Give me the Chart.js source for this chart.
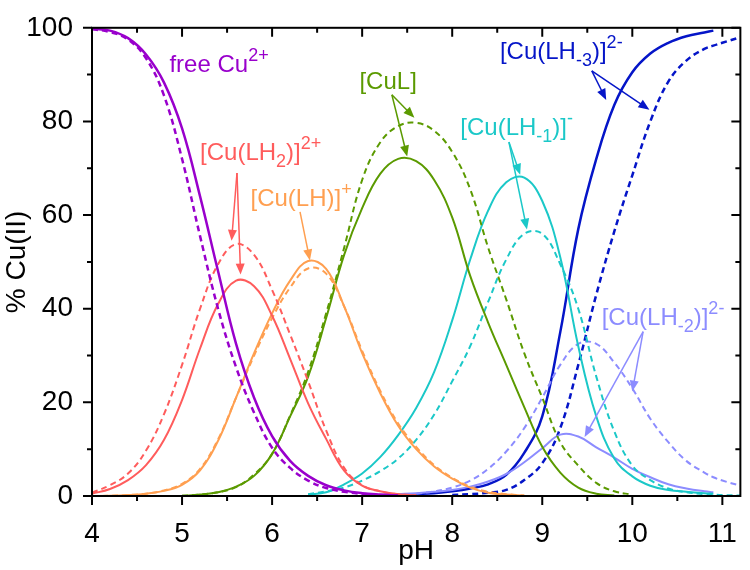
<!DOCTYPE html>
<html>
<head>
<meta charset="utf-8">
<script src="https://cdn.jsdelivr.net/npm/chart.js@4.4.0/dist/chart.umd.min.js"></script>
<style>
  html, body { margin: 0; padding: 0; background: #fff; }
  #wrap { width: 750px; height: 570px; }
</style>
</head>
<body>
<div id="wrap"><canvas id="myChart" width="750" height="570"></canvas></div>
<script>
// pH grid shared by all curves
const pH = [4.0, 4.2, 4.4, 4.6, 4.8, 5.0, 5.2, 5.4, 5.6, 5.8, 6.0, 6.2, 6.4, 6.6, 6.8, 7.0, 7.2, 7.4, 7.6, 7.8,
            8.0, 8.2, 8.4, 8.6, 8.8, 9.0, 9.2, 9.4, 9.6, 9.8, 10.0, 10.2, 10.4, 10.6, 10.8, 10.9, 11.0, 11.2];

const _ = null;

// % Cu(II) for each species, solid and dashed
const freeCuSolid = [99.8, 99.4, 97.8, 94.3, 88.3, 78.5, 64, 48, 32.5, 21, 12.8, 7.5, 4.3, 2.3, 1.2, 0.6, 0.3, 0.1,
                     _, _, _, _, _, _, _, _, _, _, _, _, _, _, _, _, _, _, _, _];
const freeCuDash  = [99.7, 99.1, 97.5, 93.5, 85.5, 72, 55.5, 40, 27.5, 17.8, 10.3, 6, 3.3, 1.7, 0.9, 0.45, 0.2, 0.1,
                     _, _, _, _, _, _, _, _, _, _, _, _, _, _, _, _, _, _, _, _];

const lh2Solid = [0.5, 1.5, 3.4, 6.6, 12, 20.5, 31.5, 41, 46, 44.8, 38.5, 29.3, 19.8, 12.2, 5.4, 2.2, 1.0, 0.4, 0.15,
                  _, _, _, _, _, _, _, _, _, _, _, _, _, _, _, _, _, _, _];
const lh2Dash  = [0.7, 2.3, 4.8, 9.7, 17.5, 28, 40, 49.5, 53.8, 51.5, 44, 34.5, 24.5, 14, 6, 2.3, 1.0, 0.4, 0.15,
                  _, _, _, _, _, _, _, _, _, _, _, _, _, _, _, _, _, _, _];

const lhSolid = [0, 0.05, 0.2, 0.5, 1.1, 2.4, 5.5, 11.8, 21, 30.5, 39, 46, 50.2, 48.5, 40.5, 30.5, 22, 15, 10, 6.3,
                 3.7, 1.8, 0.7, 0.3, 0.1, _, _, _, _, _, _, _, _, _, _, _, _, _];
const lhDash  = [0, 0.05, 0.2, 0.5, 1.2, 2.6, 5.8, 12.1, 21, 30, 38, 44.5, 48.6, 47.5, 40.5, 31, 22.5, 15.5, 10.5, 6.6,
                 3.9, 2.0, 0.9, 0.4, 0.1, _, _, _, _, _, _, _, _, _, _, _, _, _];

const culSolid = [_, _, _, _, _, 0.05, 0.3, 0.8, 2.0, 4.3, 9, 17, 25.5, 38, 51.5, 61.5, 68.8, 72, 71.5, 67.5,
                  59.5, 47, 37, 28, 19, 10.5, 5, 1.8, 0.5, 0.1, _, _, _, _, _, _, _, _];
const culDash  = [_, _, _, _, _, 0.05, 0.3, 0.8, 1.9, 4.6, 9, 17.2, 26.5, 39, 53, 67.5, 75.5, 79, 79.7, 78,
                  73.5, 65.5, 53, 42, 30.5, 21, 11.5, 6.5, 2.8, 1.0, 0.3, _, _, _, _, _, _, _];

const lhm1Solid = [_, _, _, _, _, _, _, _, _, _, _, _, 0.3, 0.8, 2.5, 4.8, 8.3, 13, 18.8, 26.5,
                   37.5, 50.5, 61, 67, 68, 63, 51, 32, 17, 8, 4.2, 2.2, 1.3, 0.9, 0.6, 0.5, _, _];
const lhm1Dash  = [_, _, _, _, _, _, _, _, _, _, _, _, 0.4, 1.0, 1.8, 3.3, 5.3, 8, 12, 17.4,
                   24.5, 32, 41.5, 50.5, 56, 56, 49.5, 40, 25.5, 13.8, 6.5, 3.4, 1.6, 0.8, 0.4, 0.3, 0.2, 0.1];

const lhm2Solid = [_, _, _, _, _, _, _, _, _, _, _, _, _, _, _, 0.1, 0.2, 0.4, 0.6, 0.9,
                   1.3, 2.0, 3.1, 4.7, 7.2, 10.2, 13.1, 12.7, 10.4, 8.2, 5.8, 4, 2.5, 1.6, 1.0, 0.8, _, _];
const lhm2Dash  = [_, _, _, _, _, _, _, _, _, _, _, _, _, _, _, _, _, _, 0.5, 1.0,
                   1.8, 3.3, 5.8, 9.5, 14.5, 21, 28, 32.5, 32.5, 28.5, 23, 16.5, 11.5, 7.5, 5, 4, 3.3, 2.2];

const lhm3Solid = [_, _, _, _, _, _, _, _, _, _, _, _, _, _, _, _, _, 0.2, 0.4, 0.6,
                   1.0, 1.6, 2.5, 4.5, 9.2, 17, 35, 57, 72, 83.5, 90.5, 94.5, 96.8, 98.2, 99, 99.4, _, _];
const lhm3Dash  = [_, _, _, _, _, _, _, _, _, _, _, _, _, _, _, _, _, _, _, _,
                   0.2, 0.4, 0.7, 1.3, 3.4, 7, 14.5, 28, 43, 56.5, 68.5, 80, 88.5, 93, 95.5, 96.2, 96.8, 98];

// axis ticks
const xMajor = [4, 5, 6, 7, 8, 9, 10, 11];
const xMinor = [4.5, 5.5, 6.5, 7.5, 8.5, 9.5, 10.5];
const yMajor = [0, 20, 40, 60, 80, 100];
const yMinor = [10, 30, 50, 70, 90];

const FONT = '"Liberation Sans", Arial, sans-serif';

const colors = {
    purple: '#9900cc',
    red: '#ff5c5c',
    orange: '#ff9f50',
    green: '#5b9a00',
    cyan: '#1bc8c8',
    blue: '#0515c8',
    light: '#8c8cff'
};

function series(vals, color, dashed, width) {
    return {
        data: pH.map((p, i) => ({ x: p, y: vals[i] })),
        borderColor: color,
        borderWidth: width || 2,
        borderDash: dashed ? [6, 4] : [],
        pointRadius: 0,
        tension: 0.4,
        fill: false
    };
}

// species labels, anchored in data units (pH, %)
const notes = [
    { color: colors.purple, at: [4.86, 90.5], parts: [['free Cu', 'n'], ['2+', 'sup']] },
    { color: colors.red, at: [5.2, 71.8], parts: [['[Cu(LH', 'n'], ['2', 'sub'], [')]', 'n'], ['2+', 'sup']] },
    { color: colors.orange, at: [5.76, 62], parts: [['[Cu(LH)]', 'n'], ['+', 'sup']] },
    { color: colors.green, at: [6.97, 86.9], parts: [['[CuL]', 'n']] },
    { color: colors.cyan, at: [8.09, 77.2], parts: [['[Cu(LH', 'n'], ['-1', 'sub'], [')]', 'n'], ['-', 'sup']] },
    { color: colors.blue, at: [8.53, 93.3], parts: [['[Cu(LH', 'n'], ['-3', 'sub'], [')]', 'n'], ['2-', 'sup']] },
    { color: colors.light, at: [9.66, 36.5], parts: [['[Cu(LH', 'n'], ['-2', 'sub'], [')]', 'n'], ['2-', 'sup']] }
];

const arrows = [
    { color: colors.red, from: [5.61, 69], to: [5.55, 54.5] },
    { color: colors.red, from: [5.61, 69], to: [5.65, 47.3] },
    { color: colors.orange, from: [6.31, 60.7], to: [6.42, 50.3] },
    { color: colors.green, from: [7.33, 85.7], to: [7.58, 80.8] },
    { color: colors.green, from: [7.33, 85.7], to: [7.5, 72.5] },
    { color: colors.cyan, from: [8.63, 75.6], to: [8.755, 68.6] },
    { color: colors.cyan, from: [8.63, 75.6], to: [8.83, 56.9] },
    { color: colors.blue, from: [9.55, 90.8], to: [9.71, 84.6] },
    { color: colors.blue, from: [9.55, 90.8], to: [10.19, 82.5] },
    { color: colors.light, from: [10.12, 35.1], to: [10.0, 22.3] },
    { color: colors.light, from: [10.12, 35.1], to: [9.47, 12.6] }
];

function drawRich(ctx, x, y, parts, color) {
    ctx.fillStyle = color;
    ctx.textAlign = 'left';
    ctx.textBaseline = 'alphabetic';
    for (const [t, kind] of parts) {
        const fs = kind === 'n' ? 24 : 18;
        const dy = kind === 'sup' ? -11 : (kind === 'sub' ? 7 : 0);
        ctx.font = fs + 'px ' + FONT;
        ctx.fillText(t, x, y + dy);
        x += ctx.measureText(t).width;
    }
}

function drawArrow(ctx, x1, y1, x2, y2, color) {
    const a = Math.atan2(y2 - y1, x2 - x1);
    const L = 11, W = 4.5;
    ctx.strokeStyle = color;
    ctx.fillStyle = color;
    ctx.lineWidth = 1.5;
    ctx.setLineDash([]);
    ctx.beginPath();
    ctx.moveTo(x1, y1);
    ctx.lineTo(x2 - L * 0.8 * Math.cos(a), y2 - L * 0.8 * Math.sin(a));
    ctx.stroke();
    ctx.beginPath();
    ctx.moveTo(x2, y2);
    ctx.lineTo(x2 - L * Math.cos(a) + W * Math.sin(a), y2 - L * Math.sin(a) - W * Math.cos(a));
    ctx.lineTo(x2 - L * Math.cos(a) - W * Math.sin(a), y2 - L * Math.sin(a) + W * Math.cos(a));
    ctx.closePath();
    ctx.fill();
}

// frame, mirrored ticks and the species annotations
const frameAndNotes = {
    id: 'frameAndNotes',
    afterDatasetsDraw(chart) {
        const ctx = chart.ctx;
        const xs = chart.scales.x, ys = chart.scales.y;
        const a = chart.chartArea;
        ctx.save();
        ctx.strokeStyle = '#000';
        ctx.lineWidth = 2;
        ctx.setLineDash([]);
        ctx.strokeRect(a.left, a.top, a.right - a.left, a.bottom - a.top);

        ctx.beginPath();
        xMajor.concat(xMinor).forEach(v => {
            const len = xMajor.includes(v) ? 9 : 5;
            const px = xs.getPixelForValue(v);
            ctx.moveTo(px, a.bottom); ctx.lineTo(px, a.bottom + len);
            ctx.moveTo(px, a.top); ctx.lineTo(px, a.top + len);
        });
        yMajor.concat(yMinor).forEach(v => {
            const len = yMajor.includes(v) ? 9 : 5;
            const py = ys.getPixelForValue(v);
            ctx.moveTo(a.left, py); ctx.lineTo(a.left - len, py);
            ctx.moveTo(a.right, py); ctx.lineTo(a.right - len, py);
        });
        ctx.stroke();

        arrows.forEach(ar => {
            drawArrow(ctx,
                xs.getPixelForValue(ar.from[0]), ys.getPixelForValue(ar.from[1]),
                xs.getPixelForValue(ar.to[0]), ys.getPixelForValue(ar.to[1]), ar.color);
        });
        notes.forEach(n => {
            drawRich(ctx, xs.getPixelForValue(n.at[0]), ys.getPixelForValue(n.at[1]), n.parts, n.color);
        });
        ctx.restore();
    }
};

const ctx = document.getElementById('myChart').getContext('2d');
const myChart = new Chart(ctx, {
    type: 'line',
    data: {
        datasets: [
            series(freeCuSolid, colors.purple, false, 2.5),
            series(freeCuDash, colors.purple, true, 2.5),
            series(lh2Solid, colors.red, false),
            series(lh2Dash, colors.red, true),
            series(lhSolid, colors.orange, false),
            series(lhDash, colors.orange, true),
            series(culSolid, colors.green, false),
            series(culDash, colors.green, true),
            series(lhm1Solid, colors.cyan, false),
            series(lhm1Dash, colors.cyan, true),
            series(lhm2Solid, colors.light, false),
            series(lhm2Dash, colors.light, true),
            series(lhm3Solid, colors.blue, false, 2.5),
            series(lhm3Dash, colors.blue, true, 2.5)
        ]
    },
    options: {
        responsive: false,
        animation: false,
        layout: { padding: { top: 14, right: 4, left: 0, bottom: 0 } },
        plugins: {
            legend: { display: false },
            tooltip: { enabled: false }
        },
        scales: {
            x: {
                type: 'linear',
                min: 4,
                max: 11.2,
                grid: { display: false },
                border: { display: false },
                afterBuildTicks: s => { s.ticks = xMajor.map(v => ({ value: v })); },
                afterFit: s => { s.height = 74; },
                ticks: { color: '#000', padding: 13, maxRotation: 0, font: { size: 28, family: FONT } },
                title: { display: true, text: 'pH', color: '#000', padding: { top: 0, bottom: 2 }, font: { size: 28, family: FONT } }
            },
            y: {
                min: 0,
                max: 100,
                grid: { display: false },
                border: { display: false },
                afterBuildTicks: s => { s.ticks = yMajor.map(v => ({ value: v })); },
                afterFit: s => { s.width = 92; },
                ticks: { color: '#000', padding: 11, font: { size: 28, family: FONT } },
                title: { display: true, text: '% Cu(II)', color: '#000', padding: { top: 0, bottom: 0 }, font: { size: 28, family: FONT } }
            }
        }
    },
    plugins: [frameAndNotes]
});
</script>
</body>
</html>
